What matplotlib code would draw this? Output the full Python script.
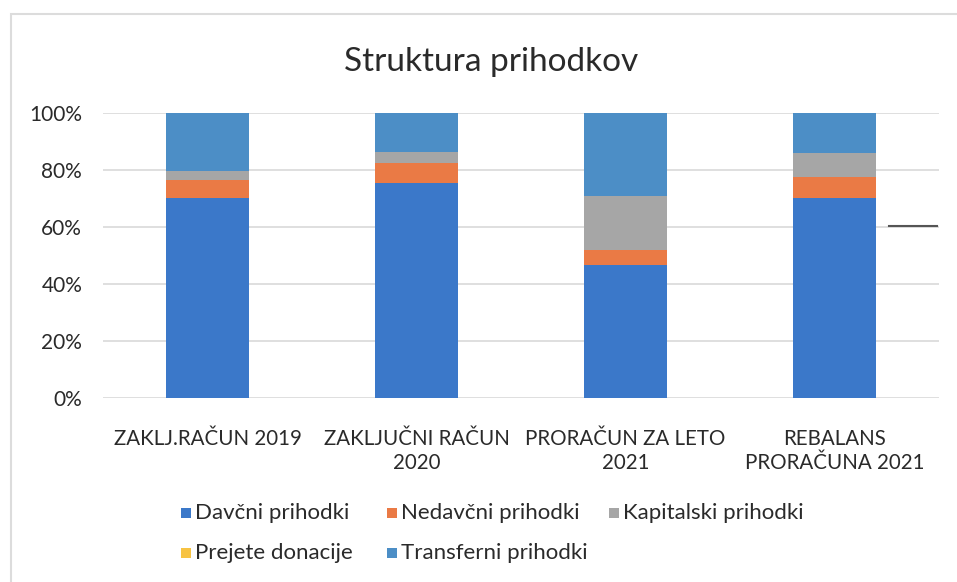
import matplotlib
matplotlib.use("Agg")
import matplotlib.pyplot as plt
from matplotlib.patches import Rectangle
from matplotlib.lines import Line2D
import numpy as np

categories = ["ZAKLJ.RAČUN 2019", "ZAKLJUČNI RAČUN\n2020", "PRORAČUN ZA LETO\n2021", "REBALANS\nPRORAČUNA 2021"]
davcni = [70.2, 75.3, 46.7, 70.3]
nedavcni = [6.3, 7.0, 5.2, 7.4]
kapitalski = [3.2, 4.1, 19.0, 8.1]
donacije = [0.0, 0.0, 0.0, 0.3]
transferni = [20.3, 13.6, 29.1, 13.9]
series_names = ["Davčni prihodki", "Nedavčni prihodki", "Kapitalski prihodki",
                "Prejete donacije", "Transferni prihodki"]
colors = ["#3B78C9", "#EA7A45", "#A6A6A6", "#F7C343", "#4C8EC6"]
yticks = [0, 20, 40, 60, 80, 100]
ytick_labels = ["0%", "20%", "40%", "60%", "80%", "100%"]

plt.rcParams['font.family'] = ['Lato', 'DejaVu Sans']
TXT = "#2a2a2a"

W, H = 957, 582
fig = plt.figure(figsize=(W/100, H/100), dpi=100)
ax = fig.add_axes([103/W, 1-398/H, (939-103)/W, (398-113)/H])

x = np.arange(len(categories))
bottom = np.zeros(len(categories))
for vals, name, c in zip([davcni, nedavcni, kapitalski, donacije, transferni], series_names, colors):
    ax.bar(x, vals, bottom=bottom, width=0.4, color=c, label=name, zorder=3)
    bottom += np.array(vals)

ax.set_xlim(-0.5, len(categories) - 0.5)
ax.set_ylim(0, 100)
ax.set_yticks(yticks)
ax.set_yticklabels(ytick_labels)
ax.set_xticks(x)
ax.set_xticklabels(categories, linespacing=1.3)
ax.tick_params(axis='y', length=0, pad=15, labelsize=15, labelcolor=TXT)
ax.tick_params(axis='x', length=0, pad=22, labelsize=14.8, labelcolor=TXT)
for s in ax.spines.values():
    s.set_visible(False)
ax.grid(axis='y', color="#d9d9d9", linewidth=1.2, zorder=0)
ax.set_axisbelow(True)

fig.text(491/W, 1-62/H, "Struktura prihodkov", ha='center', va='center',
         fontsize=24, color=TXT)

# legend, laid out as in the reference (rows: 3 + 2 entries)
leg_pos = [(181, 513), (387, 513), (609, 513), (181, 553), (387, 553)]
for (lx, ly), name, c in zip(leg_pos, series_names, colors):
    fig.add_artist(Rectangle((lx/W, 1-(ly+5)/H), 10/W, 10/H, transform=fig.transFigure,
                             facecolor=c, edgecolor='none'))
    fig.text((lx+14)/W, 1-ly/H, name, ha='left', va='center', fontsize=16, color=TXT)

# chart border (scan)
fig.add_artist(Rectangle((11/W, -0.05), 1.1, 1 - 14/H + 0.05, transform=fig.transFigure,
                         fill=False, edgecolor="#dcdcdc", linewidth=1.5))
# scan artifact dash
fig.add_artist(Line2D([889/W, 937/W], [1-226/H, 1-226/H], transform=fig.transFigure,
                      color="#555555", linewidth=1.5))

fig.savefig("out.png", dpi=100)
